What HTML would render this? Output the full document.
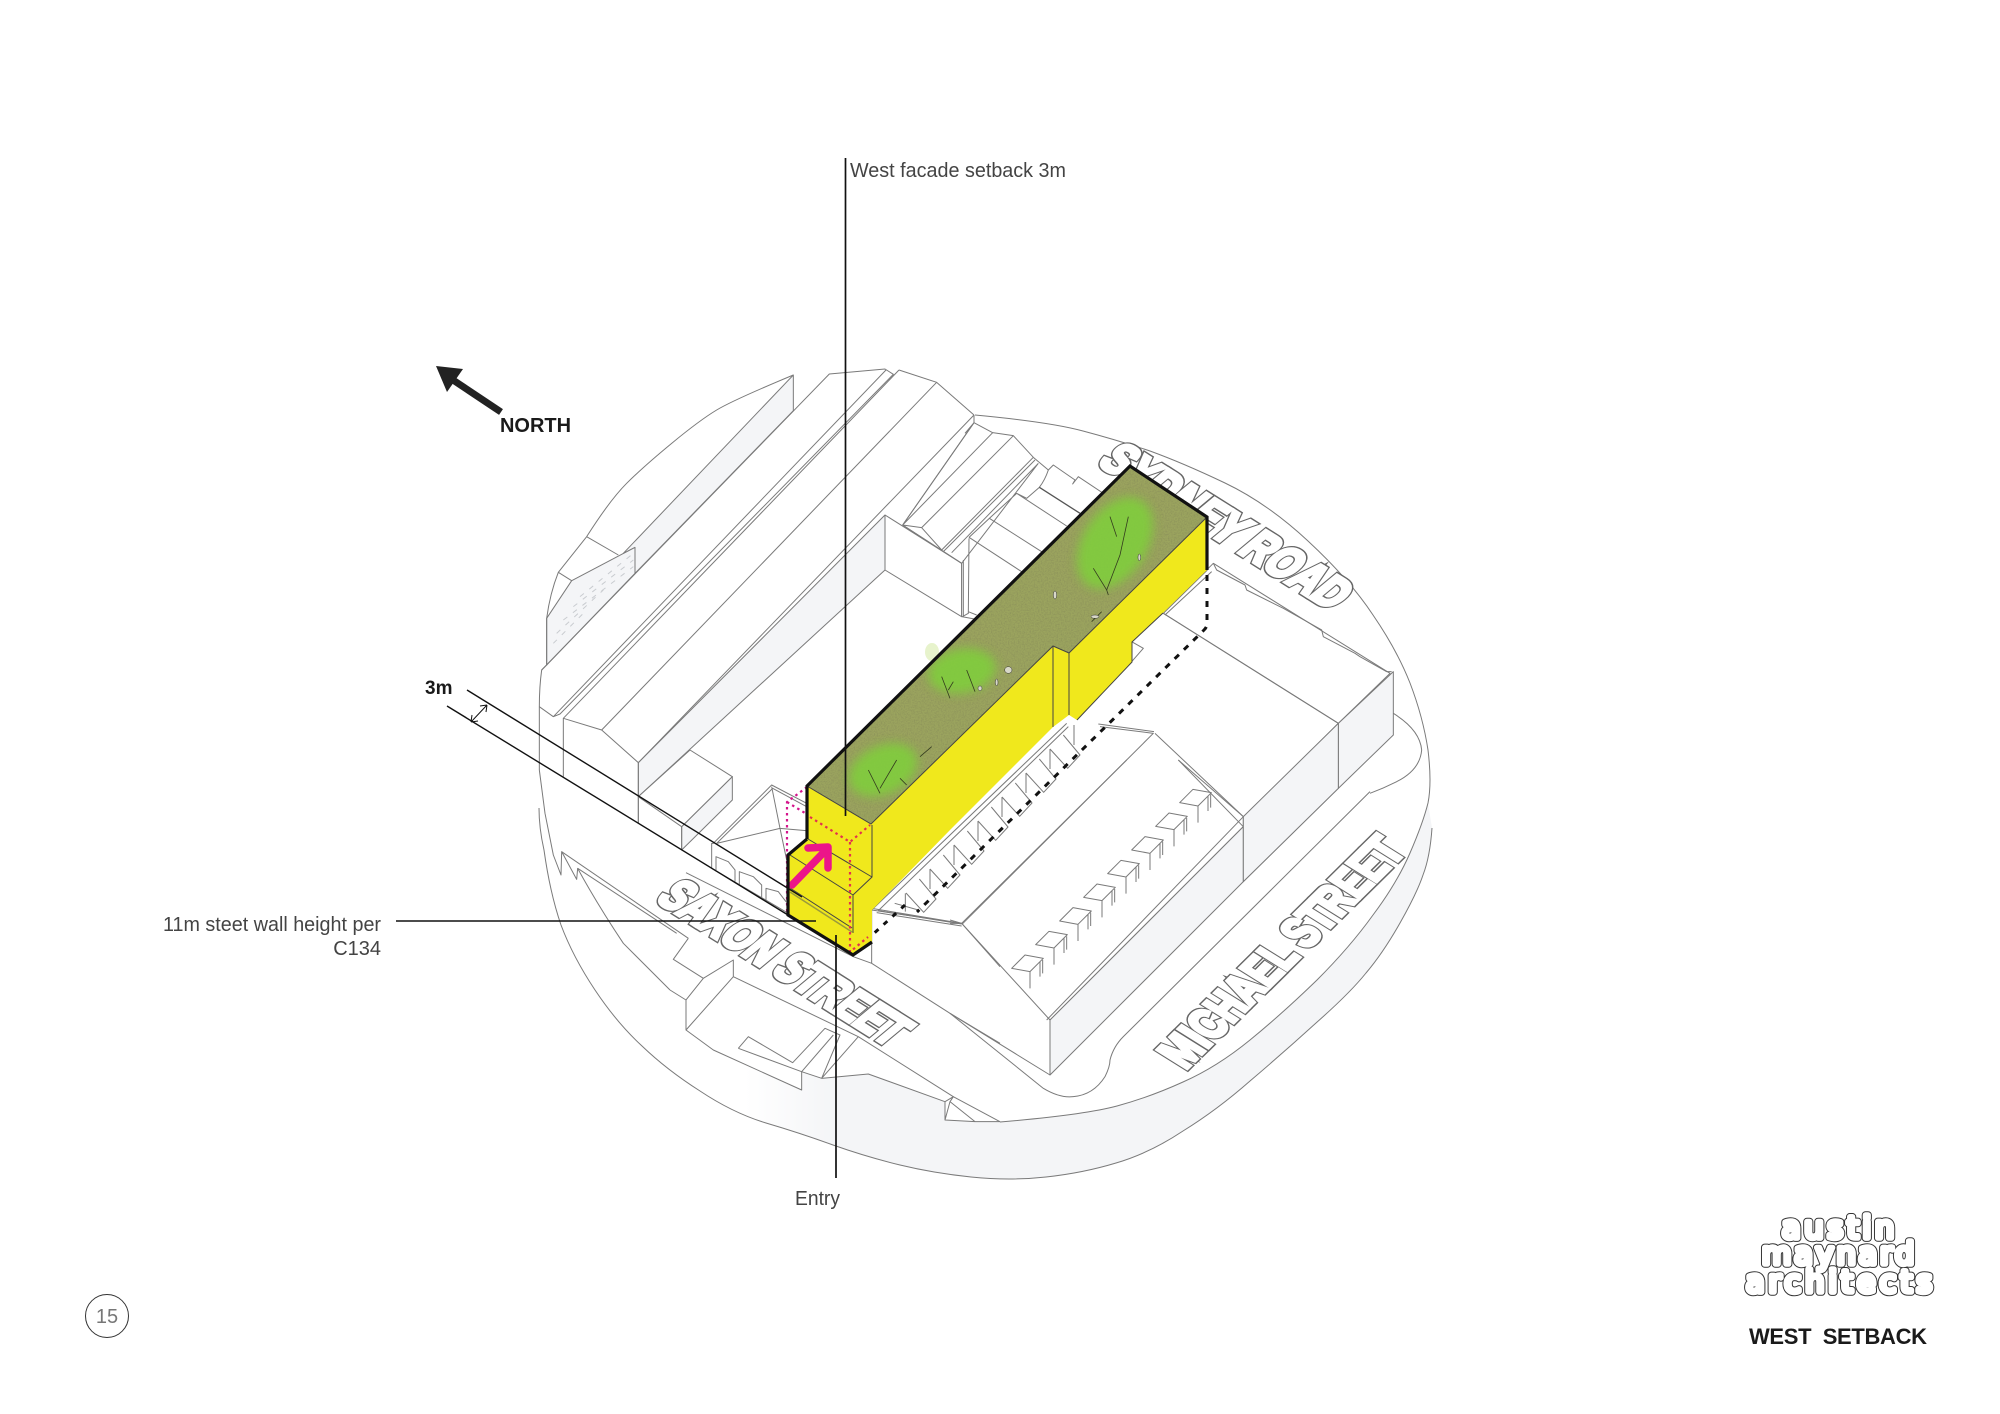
<!DOCTYPE html>
<html><head><meta charset="utf-8"><style>
html,body{margin:0;padding:0;background:#fff;width:2000px;height:1414px;overflow:hidden}
svg{display:block}
svg *{vector-effect:non-scaling-stroke}
.l{fill:none;stroke:#7a7a7a;stroke-width:1;stroke-linejoin:round}
.s{fill:#f4f5f7;stroke:#7a7a7a;stroke-width:1;stroke-linejoin:round}
.w{fill:#fff;stroke:#7a7a7a;stroke-width:1;stroke-linejoin:round}
.t{font-family:"Liberation Sans",sans-serif;font-size:20px;fill:#444}
.b{font-family:"Liberation Sans",sans-serif;font-weight:bold;fill:#1a1a1a}
.k{stroke:#111;fill:none}
.stA{font-family:"Liberation Sans",sans-serif;font-weight:bold;fill:#666;stroke:#666;stroke-width:7.5;stroke-linejoin:miter}
.stB{font-family:"Liberation Sans",sans-serif;font-weight:bold;fill:#fff;stroke:#fff;stroke-width:4.5;stroke-linejoin:miter}
.logo{font-family:"DejaVu Sans",sans-serif;font-size:30px;stroke-linejoin:round;stroke-linecap:round}
</style></head><body>
<svg width="2000" height="1414" viewBox="0 0 2000 1414" xmlns="http://www.w3.org/2000/svg">
<defs>
<linearGradient id="fade" gradientUnits="userSpaceOnUse" x1="745" y1="0" x2="835" y2="0"><stop offset="0" stop-color="#fff"/><stop offset="1" stop-color="#f4f5f7"/></linearGradient>
<filter id="blur" x="-40%" y="-40%" width="180%" height="180%"><feGaussianBlur stdDeviation="5"/></filter>
<filter id="noise" x="0" y="0" width="100%" height="100%"><feTurbulence type="fractalNoise" baseFrequency="0.7" numOctaves="2" seed="4"/><feColorMatrix type="matrix" values="0 0 0 0 0.25  0 0 0 0 0.27  0 0 0 0 0.1  1.6 0 0 0 -0.6"/></filter>
<clipPath id="roof"><polygon points="807,786 1130,466 1207,517 1069,653 1053,646 871,824"/></clipPath>
<g id="chair"><path class="l" d="M185,625L225,585L280,595L240,635ZM240,635V685M270,605V650M278,600V640"/></g>
<g id="tooth"><path class="l" d="M372,975V1035M340,1005L390,1065L353,1105L300,1047"/></g>
</defs>

<!-- plinth shade -->
<path fill="url(#fade)" d="M1428,803Q1423,823 1410,853Q1397,883 1373,915Q1350,947 1317,980Q1283,1013 1250,1040Q1217,1067 1183,1082Q1150,1097 1117,1106Q1083,1115 1000,1122L975,1122L945,1120L945,1102L868,1074L822,1078L802,1072L802,1090L733,1060V1113L766,1123Q800,1133 833,1145Q867,1157 900,1165Q933,1173 971,1177Q1010,1181 1046,1177Q1083,1173 1116,1163Q1150,1153 1183,1131Q1217,1110 1250,1081Q1283,1053 1316,1023Q1350,993 1366,973Q1383,953 1400,923Q1417,893 1423,875Q1430,857 1432,828Z"/>
<path class="l" d="M1432,828Q1430,857 1423,875Q1417,893 1400,923Q1383,953 1366,973Q1350,993 1316,1023Q1283,1053 1250,1081Q1217,1110 1183,1131Q1150,1153 1116,1163Q1083,1173 1046,1177Q1010,1181 971,1177Q933,1173 900,1165Q867,1157 833,1145Q800,1133 766,1123Q733,1113 700,1091Q667,1070 642,1046Q617,1023 595,990Q573,957 561,925Q550,893 544,850Q539,828 539,808"/>
<!-- top-of-disc edge, right side -->
<path class="l" d="M975,415Q1050,422 1083,431Q1117,440 1150,451Q1183,463 1225,483Q1267,503 1308,541Q1350,580 1373,615Q1397,650 1410,683Q1423,717 1428,750Q1432,783 1428,803Q1423,823 1410,853Q1397,883 1373,915Q1350,947 1317,980Q1283,1013 1250,1040Q1217,1067 1183,1082Q1150,1097 1117,1106Q1083,1115 1000,1122"/>

<!-- Z1 coordinates -->
<g transform="translate(500,340) scale(.33333)">
<path class="s" d="M215,722L405,622V700L140,975V835Z"/>
<path class="s" d="M370,640L880,105V212L405,700V622Z"/>
<path class="s" d="M415,1268L1155,525V690L415,1370Z"/>
<path class="s" d="M545,1460L697,1310V1380L545,1530Z"/>
<path class="l" d="M880,105Q700,180 650,210Q600,240 515,310Q430,380 380,430Q330,480 260,590L175,697Q150,760 140,835V975L125,990Q118,1040 118,1100V1290"/>
<path class="l" d="M260,590L355,645M175,697L215,722M125,990L988,102L1155,87L1180,103L180,1122L160,1130M118,1100L160,1130L1158,90M1197,90L1310,127L1422,225M1197,90L190,1135L305,1170L415,1268M1310,127L305,1170M190,1135V1310M415,1268V1450M415,1268L1422,225"/>
<path class="l" d="M1155,525L1385,670V830L1155,690"/>
<path class="w" d="M415,1370L570,1230L697,1310L545,1460Z"/>
<path class="l" d="M545,1460V1530M415,1370V1450"/>
<path fill="none" stroke="#c9ccd0" stroke-width="1" stroke-dasharray="5 7" d="M240,770L400,640M220,800L400,660M190,840L400,680M170,880L310,750M160,910L250,820"/>
</g>

<!-- street names (doubled stroke gives the heavy outline lettering) -->
<g font-size="150">
<text class="stA" transform="translate(950,400) scale(.33333) matrix(.847,.532,-.77,.64,440,190)" textLength="830" lengthAdjust="spacingAndGlyphs">SYDNEY ROAD</text>
<text class="stB" transform="translate(950,400) scale(.33333) matrix(.847,.532,-.77,.64,440,190)" textLength="830" lengthAdjust="spacingAndGlyphs">SYDNEY ROAD</text>
<text class="stA" transform="translate(500,760) scale(.33333) matrix(.847,.532,-.77,.64,465,420)" textLength="830" lengthAdjust="spacingAndGlyphs">SAXON STREET</text>
<text class="stB" transform="translate(500,760) scale(.33333) matrix(.847,.532,-.77,.64,465,420)" textLength="830" lengthAdjust="spacingAndGlyphs">SAXON STREET</text>
<text class="stA" transform="translate(950,760) scale(.33333) matrix(.71,-.70,.85,.53,705,930)" textLength="937" lengthAdjust="spacingAndGlyphs">MICHAEL STREET</text>
<text class="stB" transform="translate(950,760) scale(.33333) matrix(.71,-.70,.85,.53,705,930)" textLength="937" lengthAdjust="spacingAndGlyphs">MICHAEL STREET</text>
</g>

<!-- north-east buildings behind block -->
<g transform="translate(880,400) scale(.33333)">
<path class="w" d="M282,68L338,98L400,107L460,172L505,210L520,195L585,240L578,252L595,230L700,300L300,660L245,650V490L68,375Z"/>
<path class="l" d="M282,45V68L255,100M282,68L68,375M338,98L68,375M68,375L125,383L185,450M400,107L125,383M68,375L245,490M460,172L185,450M465,180L190,455M475,190L215,458M245,490L475,190M250,480V650M267,415L265,640L247,650M265,635L290,645M267,412L425,515M267,412L328,355L485,455M328,355L410,280L560,378M410,280L440,295L478,262M505,210Q495,240 478,262"/>
<path fill="none" stroke="#555" stroke-width="1.3" d="M478,262L600,340"/>
</g>

<g transform="translate(950,400) scale(.33333)">
<path class="w" d="M640,640L790,490L1320,820L1165,970Z"/>
<path class="l" d="M790,490L800,510L885,555L890,570L990,620L1000,625L1115,690L1120,710L1215,760L1230,770L1310,815L1325,815"/>
<path class="s" d="M880,1255L1165,970V1165L880,1445Z"/>
<path class="s" d="M1165,970L1330,815V1005L1165,1165Z"/>
<path class="l" d="M640,640L1165,970M615,1000L880,1250M450,980L610,1000L36,1573M445,972L612,995"/>
<path class="l" d="M1330,940Q1410,990 1415,1050Q1410,1110 1340,1145Q1300,1165 1260,1180"/>
<path class="l" d="M772,510L640,640M785,515L645,645M-235,1530L350,970M-215,1532L355,980M-215,1532L35,1572M-220,1538L35,1578"/>
<path class="l" d="M545,725L580,745L545,785"/>
<use href="#tooth"/><use href="#tooth" x="-72" y="72"/><use href="#tooth" x="-144" y="144"/><use href="#tooth" x="-216" y="216"/><use href="#tooth" x="-288" y="288"/><use href="#tooth" x="-360" y="360"/><use href="#tooth" x="-432" y="432"/>
<path class="l" d="M-134,1480V1535M-166,1510L-95,1530"/>
</g>

<!-- Z4 coordinates -->
<g transform="translate(950,760) scale(.33333)">
<path class="l" d="M530,0L35,490L300,780L880,200L685,0"/>
<path class="s" d="M300,780L880,200V365L300,945Z"/>
<path class="s" d="M880,170V365L1165,85V-110Z"/>
<path class="l" d="M290,780L880,170M685,0L880,170M0,760L300,945M0,490L35,490M0,480L35,490"/>
<path class="l" d="M0,760L280,985Q330,1015 370,1010Q430,1005 465,950Q480,920 480,900Q490,860 520,830L1260,95"/>
<use href="#chair"/><use href="#chair" x="72" y="-71"/><use href="#chair" x="144" y="-142"/><use href="#chair" x="216" y="-213"/><use href="#chair" x="288" y="-284"/><use href="#chair" x="360" y="-355"/><use href="#chair" x="432" y="-426"/><use href="#chair" x="504" y="-497"/>
</g>

<!-- Z3 coordinates -->
<g transform="translate(500,760) scale(.33333)">
<path class="l" d="M118,30L135,160L160,285L183,345L185,275L230,358L233,325Q290,430 370,550L510,690"/>
<path class="l" d="M558,720V810L640,870L905,990V935L965,955L1105,942L1335,1025V1080L1425,1085L1500,1085"/>
<path class="l" d="M185,275L565,535M233,325L530,520M565,535L520,598L610,655L700,600V650L558,810M610,655L558,720L510,690M700,650L1075,830L1360,1010L1500,1085M558,338L1060,590L1115,610L1350,760L1500,850M1115,450V610M1115,450L1385,490L1500,620M1115,445L1385,490"/>
<path class="l" d="M715,865L745,830L878,908L975,805L1020,825L965,955M715,865L905,935L1000,825M1075,830L965,955M1335,1025L1360,1010L1350,1025L1425,1085M1335,1080L1350,1025"/>
<path class="w" d="M640,250L815,75L920,130V300L865,285V460L635,325V250Z"/>
<path class="l" d="M650,250L818,85L920,140M815,80L840,205L860,300M650,250L840,205L918,212M648,330V290L685,305L705,330V365M718,375V335L760,350L785,375V415M798,425V385L835,395L858,425"/>
</g>

<!-- yellow block -->
<polygon fill="#9ba45e" points="807,786 1130,466 1207,517 1069,653 1053,646 871,824"/>
<ellipse cx="932" cy="652" rx="7" ry="9" fill="#cfe89a" opacity=".5"/>
<g clip-path="url(#roof)">
<rect x="800" y="460" width="410" height="370" filter="url(#noise)"/>
<g filter="url(#blur)" fill="#7fd03a" opacity=".85">
<ellipse cx="1115" cy="543" rx="32" ry="50" transform="rotate(32 1115 543)"/><ellipse cx="962" cy="671" rx="34" ry="22" transform="rotate(-10 962 671)"/><ellipse cx="883" cy="770" rx="36" ry="24" transform="rotate(-25 883 770)"/>
</g>
<g transform="translate(800,480) scale(.33333)" fill="none" stroke="#333a1e" stroke-width=".8">
<path d="M880,265L920,330L960,225L985,110M930,110L950,170M920,330L925,345M425,590L450,655M460,605L445,630M500,570L525,635M205,870L240,940M290,840L240,925M300,895L320,915M360,830L395,800M875,425L905,395"/>
</g>
<g transform="translate(800,480) scale(.33333)" fill="#d8d8c8" stroke="#333" stroke-width=".5">
<ellipse cx="765" cy="345" rx="5" ry="12"/><ellipse cx="625" cy="570" rx="11" ry="10"/><ellipse cx="590" cy="607" rx="4" ry="10"/><ellipse cx="1018" cy="232" rx="4" ry="10"/><ellipse cx="540" cy="625" rx="6" ry="7"/><ellipse cx="885" cy="410" rx="12" ry="5"/>
</g>
</g>
<polygon fill="#f0e81c" points="807,786 871,824 1053,646 1069,653 1207,517 1207,570 1163,613 1132,642 1132,662 1077,720 1069,715 1053,727 950,830 872,910 872,942 853,955 788,915 788,855 807,839"/>
<path fill="none" stroke="#444" stroke-width="1" d="M807,786L871,824L1053,646L1069,653L1207,517M1053,646V727M1069,653V715M1163,613L1132,642V662L1077,720M872,825V877L853,895V933M808,839L872,877M790,855L853,895"/>
<path fill="none" stroke="#9a9a3c" stroke-width="1.5" d="M790,892L852,932"/>
<path fill="none" stroke="#444" stroke-width="1" d="M790,888L852,928"/>

<!-- dotted overlays -->
<g fill="none" stroke-width="2.2" stroke-dasharray="2.5 3.5">
<path stroke="#e3304f" d="M810,817L850,842L870,825M850,842V952L868,937"/>
<path stroke="#d4148c" d="M807,787L787,802V913M787,802L805,813"/>
</g>

<!-- entry arrow -->
<path fill="none" stroke="#ec1589" stroke-width="7.5" stroke-linecap="round" stroke-linejoin="round" d="M792,885L828,848M808,848L828,847V868"/>

<!-- bold outline -->
<g class="k" stroke-width="3.2" stroke-linejoin="miter">
<path d="M807,839V786L1130,466L1207,517V570"/>
<path d="M872,942L853,955L788,915V855L807,839"/>
</g>
<path fill="none" stroke="#111" stroke-width="3" stroke-dasharray="6 7" d="M1207,575V624Q1207,627 1204,630L917,912"/>
<path fill="none" stroke="#111" stroke-width="3" stroke-dasharray="5 7" d="M905,905L870,937"/>

<!-- leaders -->
<g stroke="#111" fill="none">
<path stroke-width="1.7" d="M845.5,158V816"/>
<path stroke-width="1.7" d="M836,935V1178"/>
<path stroke-width="1.5" d="M396,921H816"/>
<path stroke-width="1.4" d="M467,690L802,897"/>
<path stroke-width="1.4" d="M447,706L788,915"/>
<path stroke-width="1" d="M471,722L487,705M471,722L472,715M471,722L478,721M487,705L480,706M487,705L486,712"/>
</g>
<g fill="#222">
<path fill="none" stroke="#222" stroke-width="7" d="M450,378L501,412"/>
<path d="M436,366L463,369L447,392Z"/>
</g>

<!-- labels -->
<text class="t" x="850" y="177" textLength="216" lengthAdjust="spacingAndGlyphs">West facade setback 3m</text>
<text class="t" x="163" y="931" textLength="218" lengthAdjust="spacingAndGlyphs">11m steet wall height per</text>
<text class="t" x="381" y="955" text-anchor="end">C134</text>
<text class="t" x="795" y="1205" textLength="45" lengthAdjust="spacingAndGlyphs">Entry</text>
<text class="b" x="425" y="694" font-size="19">3m</text>
<text class="b" x="500" y="432" font-size="20" textLength="71" lengthAdjust="spacingAndGlyphs">NORTH</text>

<circle cx="107" cy="1316" r="21.5" fill="#fff" stroke="#333" stroke-width="1"/>
<text x="107" y="1323" text-anchor="middle" font-family="Liberation Sans,sans-serif" font-size="20" fill="#777">15</text>

<!-- logo -->
<g class="logo" fill="none" stroke="#333" stroke-width="7.5">
<text x="1782" y="1238" textLength="112">austin</text>
<text x="1762" y="1264" textLength="152">maynard</text>
<text x="1746" y="1292" textLength="186">architects</text>
</g>
<g class="logo" fill="#fff" stroke="#fff" stroke-width="5.5">
<text x="1782" y="1238" textLength="112">austin</text>
<text x="1762" y="1264" textLength="152">maynard</text>
<text x="1746" y="1292" textLength="186">architects</text>
</g>
<text class="b" x="1749" y="1344" font-size="22" textLength="178" lengthAdjust="spacing" xml:space="preserve">WEST  SETBACK</text>
</svg>
</body></html>
